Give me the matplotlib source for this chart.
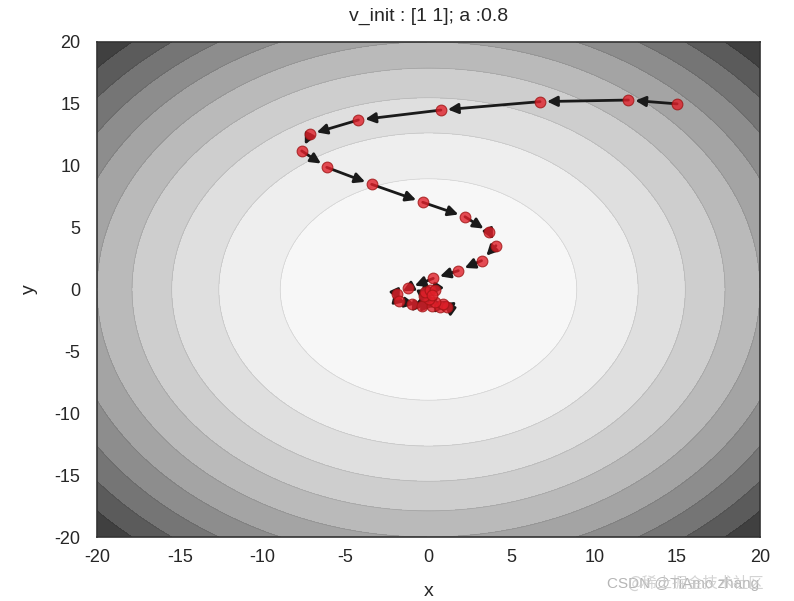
import numpy as np
import matplotlib
matplotlib.use("Agg")
import matplotlib.pyplot as plt
from matplotlib.colors import ListedColormap

# trajectory points
xs = [15.0, 12.06, 6.73, 0.75, -4.23, -7.15, -7.65, -6.14, -3.43, -0.35, 2.2, 3.67, 4.07,
      3.2, 1.8, 0.29, -1.22, -1.92, -1.75, -1.0, -0.4, 0.2, 0.7, 1.1, 0.9, 0.4, 0.0, -0.25,
      -0.2, 0.1, 0.4, 0.2]
ys = [15.0, 15.31, 15.18, 14.5, 13.7, 12.54, 11.2, 9.87, 8.5, 7.05, 5.88, 4.62, 3.54,
      2.33, 1.52, 0.9, 0.1, -0.4, -0.9, -1.15, -1.3, -1.35, -1.39, -1.39, -1.2, -0.98,
      -0.75, -0.5, -0.2, 0.0, -0.04, -0.44]

title = "v_init : [1 1]; a :0.8"
xticks = [-20, -15, -10, -5, 0, 5, 10, 15, 20]
yticks = [-20, -15, -10, -5, 0, 5, 10, 15, 20]
levels = np.linspace(0, 800, 11)

plt.rcParams['font.family'] = ['Liberation Sans', 'DejaVu Sans']
plt.rcParams['axes.unicode_minus'] = False

fig = plt.figure(figsize=(7.94, 6.01), dpi=100)
ax = fig.add_axes([97/794, 1-537/601, (760-97)/794, (537-42)/601])

t = np.linspace(0, 1, 10)
greys = 0.97 - 0.72 * t**1.35
cmap = ListedColormap([(g, g, g) for g in greys])

gx = np.linspace(-20, 20, 400)
gy = np.linspace(-20, 20, 400)
X, Y = np.meshgrid(gx, gy)
Z = X**2 + Y**2
ax.contourf(X, Y, Z, levels=levels, cmap=cmap)
ax.contour(X, Y, Z, levels=levels[1:-1], colors='k', linewidths=0.5, alpha=0.12)

for i in range(len(xs) - 1):
    ax.annotate('', xy=(xs[i+1], ys[i+1]), xytext=(xs[i], ys[i]),
                arrowprops=dict(arrowstyle='-|>', color='#1a1a1a', lw=2.0,
                                mutation_scale=15, shrinkA=0, shrinkB=5))
ax.scatter(xs, ys, s=60, c='#e0202a', edgecolors='#a01515', linewidths=0.8,
           alpha=0.8, zorder=5)

ax.set_xlim(-20, 20)
ax.set_ylim(-20, 20)
ax.set_xticks(xticks)
ax.set_yticks(yticks)
ax.tick_params(axis='x', length=0, labelsize=13, pad=9, colors='#262626')
ax.tick_params(axis='y', length=0, labelsize=13, pad=12, colors='#262626')
for s in ax.spines.values():
    s.set_color('#333333')
    s.set_linewidth(1.2)
ax.set_title(title, fontsize=14, color='#262626', pad=15)
ax.set_xlabel('x', fontsize=14, color='#262626', labelpad=12)
ax.set_ylabel('y', fontsize=14, color='#262626', labelpad=12)

fig.text(0.765, 0.022, 'CSDN @TiAmo zhang', fontsize=11, color='#b5b5b5',
         family=['Liberation Sans', 'DejaVu Sans'])
fig.text(0.79, 0.022, '@稀土掘金技术社区', fontsize=11, color='#c8c8c8', alpha=0.8,
         family=['Noto Sans CJK SC', 'DejaVu Sans'])

fig.savefig('out.png', dpi=100)
